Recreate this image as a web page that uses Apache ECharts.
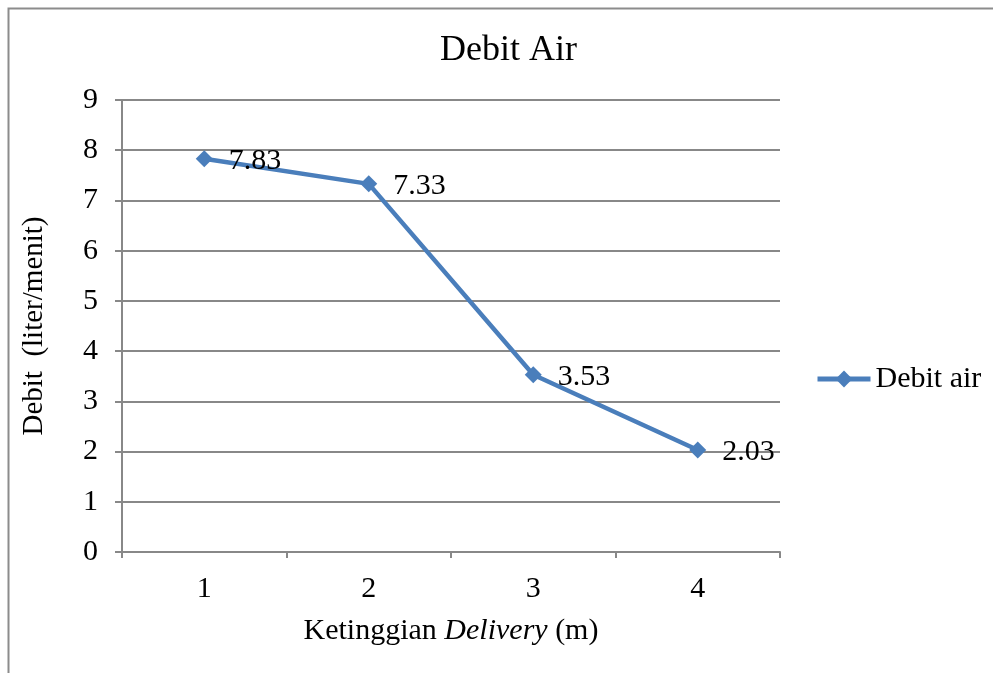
<!DOCTYPE html>
<html>
<head>
<meta charset="utf-8">
<script src="https://cdn.jsdelivr.net/npm/echarts@6/dist/echarts.min.js"></script>
<style>
  html, body { margin: 0; padding: 0; background: #fff; }
  #chart { width: 993px; height: 673px; }
</style>
</head>
<body>
<div id="chart"></div>
<script>
// data
const categories = ['1', '2', '3', '4']
const debitAir = [7.83, 7.33, 3.53, 2.03]
const yTicks = { min: 0, max: 9, interval: 1 }

const serif = 'Liberation Serif'
const gray = '#888888'
const blue = '#4a7ebb'

const chart = echarts.init(document.getElementById('chart'))
chart.setOption({
  backgroundColor: '#fff',
  animation: false,
  graphic: [{
    type: 'rect',
    shape: { x: 8.5, y: 8.5, width: 1000, height: 700 },
    style: { fill: 'none', stroke: '#8c8c8c', lineWidth: 2 },
    silent: true
  }],
  title: {
    text: 'Debit Air',
    left: 435,
    top: 28,
    textStyle: { fontFamily: serif, fontSize: 36, fontWeight: 'normal', color: '#000' }
  },
  legend: {
    left: 810,
    top: 359,
    itemWidth: 53,
    itemHeight: 21,
    lineStyle: { width: 5, color: blue },
    textStyle: { fontFamily: serif, fontSize: 30, color: '#000' },
    data: ['Debit air']
  },
  grid: { left: 122, right: 213, top: 100, bottom: 121 },
  xAxis: {
    type: 'category',
    data: categories,
    boundaryGap: true,
    name: 'Ketinggian {i|Delivery} (m)',
    nameLocation: 'middle',
    nameGap: 64,
    nameTextStyle: {
      fontFamily: serif, fontSize: 30, color: '#000',
      rich: { i: { fontFamily: serif, fontSize: 30, fontStyle: 'italic', color: '#000' } }
    },
    axisLine: { lineStyle: { color: gray, width: 2 } },
    axisTick: { show: true, length: 6, lineStyle: { color: gray, width: 2 } },
    axisLabel: { fontFamily: serif, fontSize: 30, color: '#000', margin: 22 }
  },
  yAxis: {
    type: 'value',
    min: yTicks.min,
    max: yTicks.max,
    interval: yTicks.interval,
    name: 'Debit  (liter/menit)',
    nameLocation: 'middle',
    nameGap: 73,
    nameTextStyle: { fontFamily: serif, fontSize: 29, color: '#000' },
    axisLine: { show: true, lineStyle: { color: gray, width: 2 } },
    axisTick: { show: true, length: 7, lineStyle: { color: gray, width: 2 } },
    axisLabel: { fontFamily: serif, fontSize: 30, color: '#000', margin: 24 },
    splitLine: { lineStyle: { color: gray, width: 2 } }
  },
  series: [{
    name: 'Debit air',
    type: 'line',
    data: debitAir,
    symbol: 'diamond',
    symbolSize: 17,
    lineStyle: { color: blue, width: 4.5 },
    itemStyle: { color: blue },
    label: {
      show: true,
      position: 'right',
      distance: 16,
      offset: [0, 2],
      fontFamily: serif,
      fontSize: 30,
      color: '#000'
    }
  }]
})
</script>
</body>
</html>
